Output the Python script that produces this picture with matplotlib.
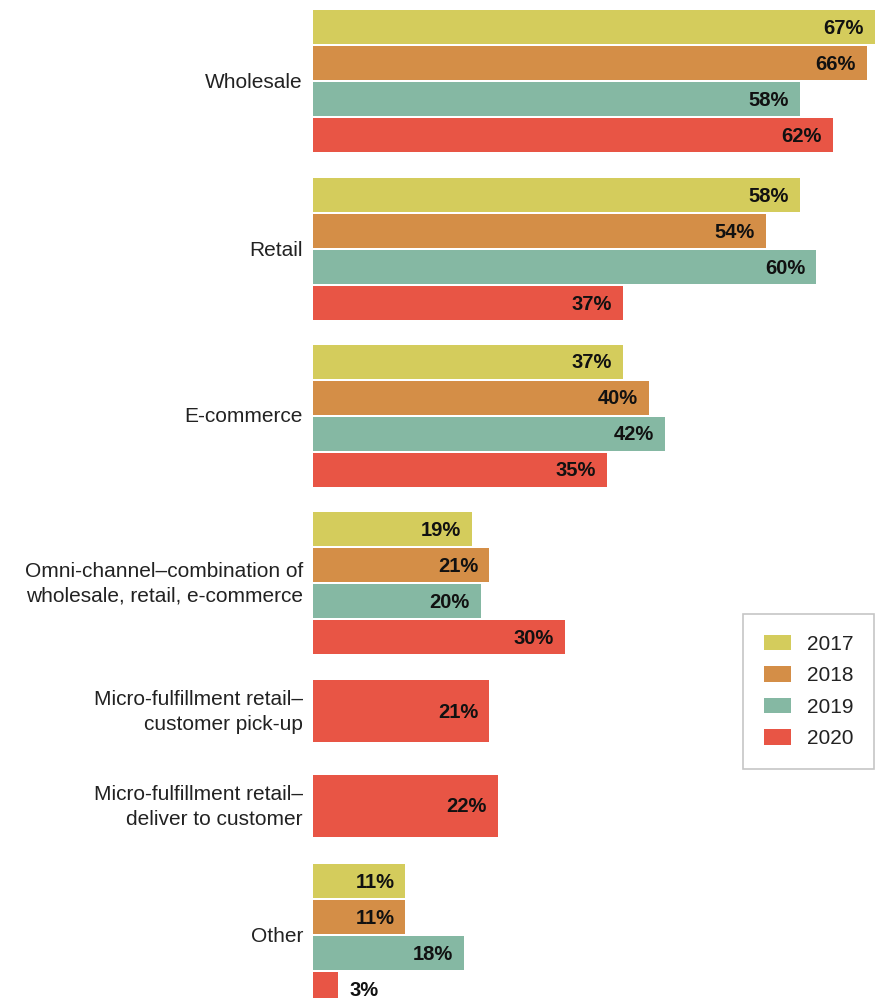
import matplotlib
matplotlib.use("Agg")
import matplotlib.pyplot as plt
from matplotlib.patches import Patch

plt.rcParams['font.family'] = ['Liberation Sans', 'DejaVu Sans']

# ---- data ----
categories = [
    "Wholesale",
    "Retail",
    "E-commerce",
    "Omni-channel\u2013combination of\nwholesale, retail, e-commerce",
    "Micro-fulfillment retail\u2013\ncustomer pick-up",
    "Micro-fulfillment retail\u2013\ndeliver to customer",
    "Other",
]
years = ["2017", "2018", "2019", "2020"]
v2017 = [67, 58, 37, 19, None, None, 11]
v2018 = [66, 54, 40, 21, None, None, 11]
v2019 = [58, 60, 42, 20, None, None, 18]
v2020 = [62, 37, 35, 30, 21, 22, 3]
series = [v2017, v2018, v2019, v2020]

# ---- styles / layout ----
colors = ["#D4CC5C", "#D48E47", "#85B8A3", "#E85545"]
text_color = "#222222"
W, H = 881, 998
x0_px = 313
px_per_pct = (875 - 313) / 67.0
top_px = 10
bar_h = 34
bar_step = 36
single_h = 62
gaps_after = [26, 25, 25, 26, 33, 27, 0]

fig = plt.figure(figsize=(W / 100, H / 100), dpi=100)
ax = fig.add_axes([0, 0, 1, 1])
ax.set_xlim(-x0_px / px_per_pct, (W - x0_px) / px_per_pct)
ax.set_ylim(H, 0)
ax.axis("off")

pad = 11 / px_per_pct
y = top_px
for gi, cat in enumerate(categories):
    vals = [s[gi] for s in series]
    present = [(k, v) for k, v in enumerate(vals) if v is not None]
    if len(present) == 1:
        k, v = present[0]
        centers = [(k, v, y + single_h / 2, single_h)]
        gh = single_h
    else:
        centers = []
        for j, (k, v) in enumerate(present):
            centers.append((k, v, y + j * bar_step + bar_h / 2, bar_h))
        gh = (len(present) - 1) * bar_step + bar_h
    for k, v, cy, h in centers:
        ax.barh(cy, v, height=h, left=0, color=colors[k], edgecolor="none")
        if v >= 8:
            ax.text(v - pad, cy + 1, f"{v}%", ha="right", va="center",
                    fontsize=14.5, fontweight="bold", color="#111111")
        else:
            ax.text(v + pad, cy + 1, f"{v}%", ha="left", va="center",
                    fontsize=14.5, fontweight="bold", color="#111111")
    gc = y + gh / 2
    ax.text(-10 / px_per_pct, gc + 1, cat, ha="right", va="center",
            fontsize=15, color=text_color, linespacing=1.38)
    y += gh + gaps_after[gi]

handles = [Patch(facecolor=c, edgecolor="none") for c in colors]
leg = ax.legend(handles, years, loc="upper left",
                bbox_to_anchor=(743 / W, 1 - 614 / H), bbox_transform=fig.transFigure,
                frameon=True, fancybox=False, fontsize=15,
                handlelength=1.3, handleheight=0.77, handletextpad=0.75,
                labelspacing=0.6, borderpad=1.0, borderaxespad=0)
fr = leg.get_frame()
fr.set_edgecolor("#b8b8b8")
fr.set_linewidth(1.2)
for t in leg.get_texts():
    t.set_color(text_color)

fig.savefig("out.png", dpi=100)
